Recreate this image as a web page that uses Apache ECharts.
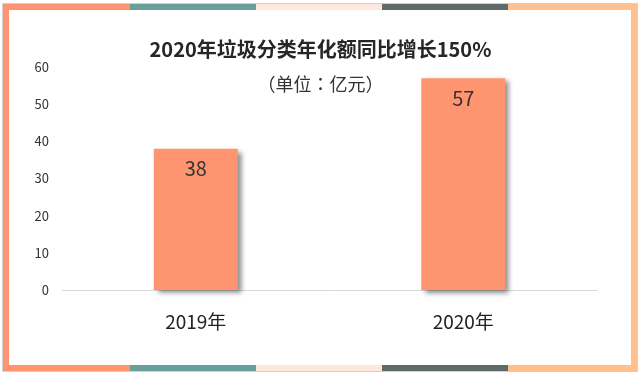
<!DOCTYPE html>
<html><head><meta charset="utf-8">
<script src="https://cdn.jsdelivr.net/npm/echarts@6/dist/echarts.min.js"></script>
<style>html,body{margin:0;padding:0;background:#fff}#c{width:641px;height:374px}</style>
</head><body><div id="c"></div>
<script>
const categories = ['2019年', '2020年'];
const values = [38, 57];
const yTicks = [0, 10, 20, 30, 40, 50, 60];
const titleText = '2020年垃圾分类年化额同比增长150%';
const subText = '（单位：亿元）';

const chart = echarts.init(document.getElementById('c'), null, {renderer: 'canvas'});
const F = '"Noto Sans CJK SC", "Open Sans", sans-serif';
const FT = '"Noto Sans CJK TC", "Noto Sans CJK SC", sans-serif';
const segColors = ['#FF9470', '#6A9E9A', '#FDE8DB', '#5F6B6A', '#FFC08E'];
const segX = [0, 130, 256, 382, 508, 641];
const frame = [];
frame.push({type: 'rect', shape: {x: 2.5, y: 3.5, width: 635, height: 368}, style: {fill: 'none', stroke: '#d0d0d0', lineWidth: 1}, z: 0});
for (let i = 0; i < 5; i++) {
  const x0 = Math.max(segX[i], 3), x1 = Math.min(segX[i + 1], 637);
  frame.push({type: 'rect', shape: {x: x0, y: 4, width: x1 - x0, height: 6}, style: {fill: segColors[i]}, z: 1});
  frame.push({type: 'rect', shape: {x: x0, y: 365, width: x1 - x0, height: 6}, style: {fill: segColors[i]}, z: 1});
}
frame.push({type: 'rect', shape: {x: 3, y: 4, width: 6, height: 367}, style: {fill: segColors[0]}, z: 1});
frame.push({type: 'rect', shape: {x: 631, y: 4, width: 6, height: 367}, style: {fill: segColors[4]}, z: 1});

chart.setOption({
  animation: false,
  backgroundColor: '#fff',
  title: [
    {text: titleText, left: 'center', top: 34, textStyle: {fontFamily: F, fontSize: 20, fontWeight: 'bold', color: '#262626'}},
    {text: subText, left: 'center', top: 70, textStyle: {fontFamily: FT, fontSize: 18, fontWeight: 'normal', color: '#333'}}
  ],
  grid: {left: 62, right: 44, top: 67, bottom: 84},
  xAxis: {
    type: 'category', data: categories,
    axisLine: {show: true, lineStyle: {color: '#d9d9d9'}},
    axisTick: {show: false},
    axisLabel: {fontFamily: F, fontSize: 19, color: '#222', margin: 22}
  },
  yAxis: {
    type: 'value', min: yTicks[0], max: yTicks[yTicks.length - 1], interval: 10,
    splitLine: {show: false}, axisLine: {show: false}, axisTick: {show: false},
    axisLabel: {fontFamily: F, fontSize: 13, color: '#333', margin: 13}
  },
  series: [{
    type: 'bar', data: values, barWidth: 84,
    itemStyle: {color: '#FF9470', shadowColor: 'rgba(0,0,0,0.45)', shadowBlur: 5, shadowOffsetX: 4, shadowOffsetY: 3},
    label: {show: true, position: 'insideTop', distance: 10, fontFamily: F, fontSize: 20, color: '#333'}
  }],
  graphic: frame
});
</script></body></html>
